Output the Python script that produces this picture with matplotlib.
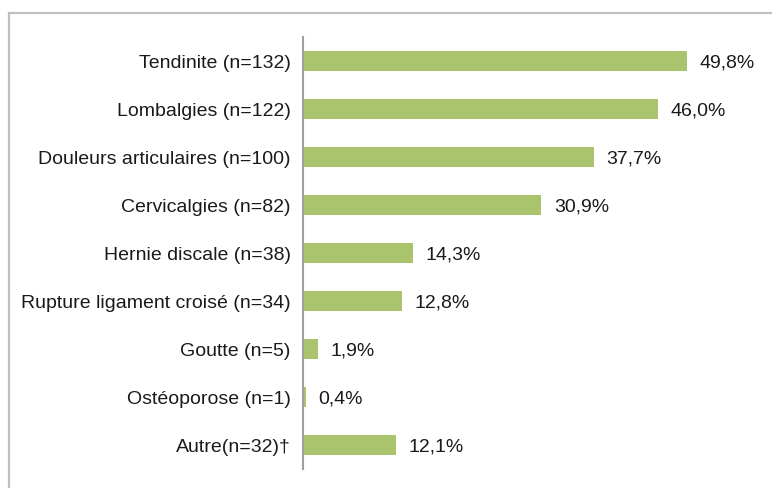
import matplotlib
matplotlib.use("Agg")
import matplotlib.pyplot as plt
from matplotlib.lines import Line2D

categories = ["Tendinite (n=132)", "Lombalgies (n=122)", "Douleurs articulaires (n=100)",
              "Cervicalgies (n=82)", "Hernie discale (n=38)", "Rupture ligament croisé (n=34)",
              "Goutte (n=5)", "Ostéoporose (n=1)", "Autre(n=32)†"]
values = [49.8, 46.0, 37.7, 30.9, 14.3, 12.8, 1.9, 0.4, 12.1]
value_labels = ["49,8%", "46,0%", "37,7%", "30,9%", "14,3%", "12,8%", "1,9%", "0,4%", "12,1%"]

plt.rcParams['font.family'] = ['Liberation Sans', 'DejaVu Sans']

W, H = 772, 488
fig = plt.figure(figsize=(W/100, H/100), dpi=100)

# outer frame (top and left only visible)
fig.add_artist(Line2D([9/W, 9/W], [0, 1 - 13/H], color='#c0c0c0', lw=1.6, transform=fig.transFigure))
fig.add_artist(Line2D([9/W, 1], [1 - 13/H, 1 - 13/H], color='#c0c0c0', lw=1.6, transform=fig.transFigure))

left, right = 303, 766
top, bottom = 37, 469
ax = fig.add_axes([left/W, 1 - bottom/H, (right-left)/W, (bottom-top)/H])

FS = 14
y = list(range(len(categories)))
ax.barh(y, values, height=0.4, color='#a9c46c')
ax.set_xlim(0, 60)
ax.set_ylim(len(categories) - 0.5, -0.5)
ax.set_yticks(y)
ax.set_yticklabels(categories, fontsize=FS, color='#1a1a1a', va='center_baseline')
ax.tick_params(axis='y', length=0, pad=9)
ax.set_xticks([])
for s in ['top', 'right', 'bottom']:
    ax.spines[s].set_visible(False)
ax.spines['left'].set_color('#a0a0a0')
ax.spines['left'].set_linewidth(1.5)

for yi, v, lab in zip(y, values, value_labels):
    ax.text(v + 1.6, yi, lab, va='center_baseline', ha='left', fontsize=FS, color='#1a1a1a')

fig.savefig("out.png", dpi=100)
